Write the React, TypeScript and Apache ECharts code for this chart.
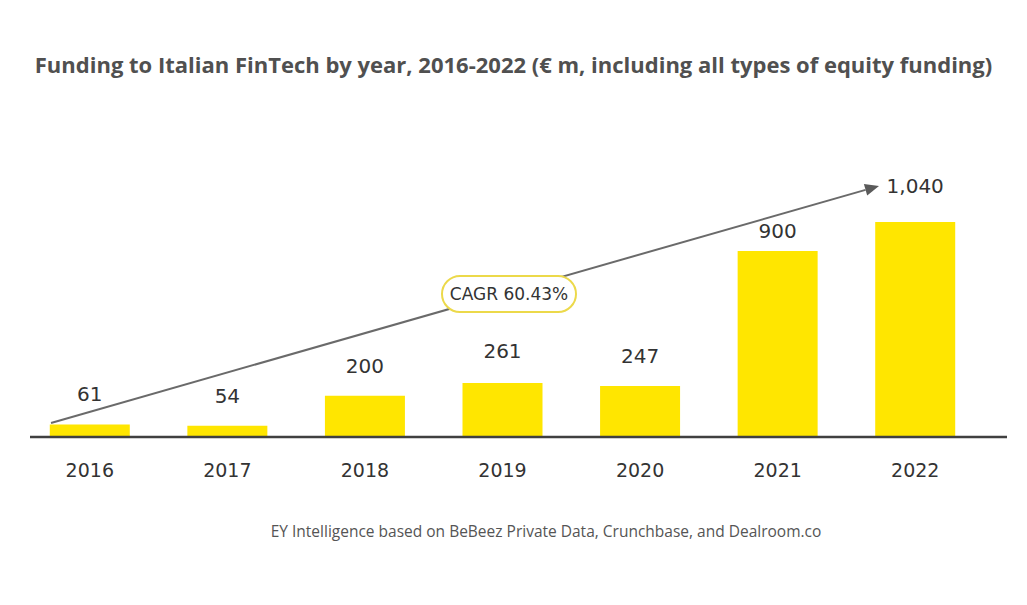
import React, { useEffect, useRef } from "react";
import * as echarts from "echarts";

const years = ["2016", "2017", "2018", "2019", "2020", "2021", "2022"];
const funding = [61, 54, 200, 261, 247, 900, 1040];
const valueLabels = ["61", "54", "200", "261", "247", "900", "1,040"];
const labelDistances = [20, 20, 20, 22, 20, 10, 26];

const titleText =
  "Funding to Italian FinTech by year, 2016-2022 (€ m, including all types of equity funding)";
const sourceText =
  "EY Intelligence based on BeBeez Private Data, Crunchbase, and Dealroom.co";
const cagrText = "CAGR 60.43%";

export default function App() {
  const ref = useRef<HTMLDivElement>(null);
  useEffect(() => {
    if (!ref.current) return;
    const chart = echarts.init(ref.current, null, { renderer: "svg" });
    const tip = [879, 186];
    const start = [51, 423];
    const dx = tip[0] - start[0];
    const dy = tip[1] - start[1];
    const len = Math.sqrt(dx * dx + dy * dy);
    const ux = dx / len, uy = dy / len;
    const nx = -uy, ny = ux;
    const hl = 14, hw = 6;
    const base = [tip[0] - hl * ux, tip[1] - hl * uy];
    chart.setOption({
      animation: false,
      backgroundColor: "#ffffff",
      title: {
        text: titleText,
        left: "center",
        top: 48,
        textStyle: {
          fontFamily: "Open Sans",
          fontWeight: "bold",
          fontSize: 22,
          color: "#505050",
        },
      },
      grid: { left: 21, right: 43, top: 189, bottom: 168 },
      xAxis: {
        type: "category",
        data: years,
        axisLine: { show: false },
        axisTick: { show: false },
        axisLabel: {
          margin: 23,
          fontFamily: "DejaVu Sans",
          fontSize: 19,
          color: "#333333",
        },
      },
      yAxis: {
        type: "value",
        min: 0,
        max: 1200,
        show: false,
        splitLine: { show: false },
      },
      series: [
        {
          type: "bar",
          barWidth: 80,
          data: funding.map((v, i) => ({
            value: v,
            label: { distance: labelDistances[i] },
          })),
          itemStyle: { color: "#FFE600" },
          label: {
            show: true,
            position: "top",
            fontFamily: "DejaVu Sans",
            fontSize: 20,
            color: "#333333",
            formatter: (p: any) => valueLabels[p.dataIndex],
          },
        },
      ],
      graphic: [
        {
          type: "line",
          shape: { x1: 30, y1: 437, x2: 1007, y2: 437 },
          style: { stroke: "#404040", lineWidth: 2.5 },
          z: 10,
        },
        {
          type: "line",
          shape: { x1: start[0], y1: start[1], x2: base[0], y2: base[1] },
          style: { stroke: "#6a6a6a", lineWidth: 2 },
          z: 10,
        },
        {
          type: "polygon",
          shape: {
            points: [
              tip,
              [base[0] + hw * nx, base[1] + hw * ny],
              [base[0] - hw * nx, base[1] - hw * ny],
            ],
          },
          style: { fill: "#5a5a5a" },
          z: 10,
        },
        {
          type: "rect",
          shape: { x: 442, y: 276, width: 134, height: 36, r: 18 },
          style: { fill: "#ffffff", stroke: "#ecd94a", lineWidth: 2 },
          z: 11,
        },
        {
          type: "text",
          x: 509,
          y: 294,
          style: {
            text: cagrText,
            textAlign: "center",
            textVerticalAlign: "middle",
            fontFamily: "DejaVu Sans",
            fontSize: 17,
            fill: "#333333",
          },
          z: 12,
        },
        {
          type: "text",
          x: 546,
          y: 531,
          style: {
            text: sourceText,
            textAlign: "center",
            textVerticalAlign: "middle",
            fontFamily: "Open Sans",
            fontSize: 15.5,
            fill: "#555555",
          },
          z: 12,
        },
      ],
    });
    return () => chart.dispose();
  }, []);
  return (
    <div
      ref={ref}
      style={{ position: "fixed", left: 0, top: 0, width: 1027, height: 605 }}
    />
  );
}
